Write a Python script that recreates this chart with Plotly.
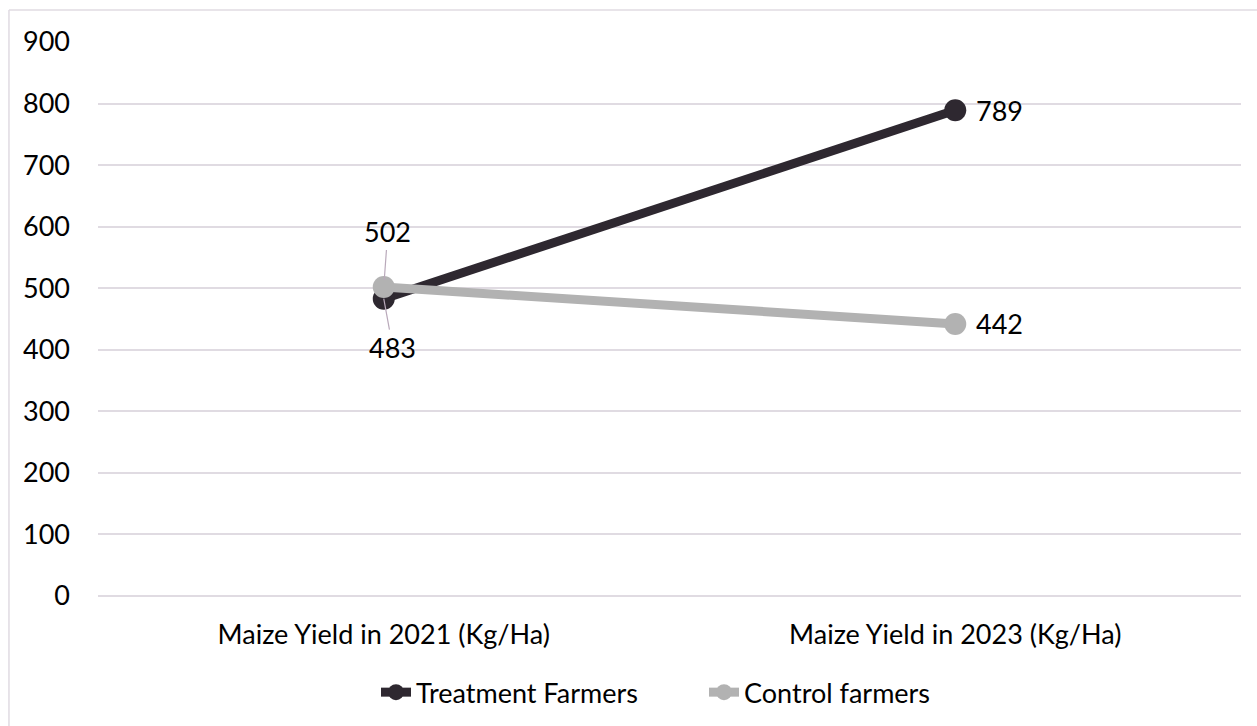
import plotly.graph_objects as go

# Maize yield per hectare, before and after the programme
categories = ["Maize Yield in 2021 (Kg/Ha)", "Maize Yield in 2023 (Kg/Ha)"]
treatment = [483, 789]
control = [502, 442]
y_ticks = [0, 100, 200, 300, 400, 500, 600, 700, 800, 900]

FONT = "Lato"
FS = 27
TXT = "#000000"
DARK = "#2e2830"
LIGHT = "#b2b2b2"
GRID = "#e0dbe2"
LEADER = "#b9a9ba"

fig = go.Figure()
fig.add_trace(go.Scatter(
    x=categories, y=treatment, name="Treatment Farmers",
    mode="lines+markers",
    line=dict(color=DARK, width=9),
    marker=dict(color=DARK, size=22),
    legend="legend",
))
fig.add_trace(go.Scatter(
    x=categories, y=control, name="Control farmers",
    mode="lines+markers",
    line=dict(color=LIGHT, width=9),
    marker=dict(color=LIGHT, size=22),
    legend="legend2",
))

# data labels: right of the 2023 points, leader lines at the crowded 2021 points
fig.add_annotation(x=categories[1], y=treatment[1], text=str(treatment[1]),
                   showarrow=False, xanchor="left", xshift=19,
                   font=dict(family=FONT, size=FS, color=TXT))
fig.add_annotation(x=categories[1], y=control[1], text=str(control[1]),
                   showarrow=False, xanchor="left", xshift=19,
                   font=dict(family=FONT, size=FS, color=TXT))
fig.add_annotation(x=categories[0], y=control[0], text=str(control[0]),
                   showarrow=True, arrowhead=0, arrowwidth=1.2, arrowcolor=LEADER,
                   ax=4, ay=-55, standoff=7, borderpad=1,
                   font=dict(family=FONT, size=FS, color=TXT))
fig.add_annotation(x=categories[0], y=treatment[0], text=str(treatment[0]),
                   showarrow=True, arrowhead=0, arrowwidth=1.2, arrowcolor=LEADER,
                   ax=9, ay=49, standoff=0, borderpad=1,
                   font=dict(family=FONT, size=FS, color=TXT))

# chart frame
fig.add_shape(type="line", xref="paper", yref="paper",
              x0=-0.0779, x1=1.03, y0=1.0578, y1=1.0578,
              line=dict(color=GRID, width=1.5))
fig.add_shape(type="line", xref="paper", yref="paper",
              x0=-0.0779, x1=-0.0779, y0=-0.3, y1=1.0578,
              line=dict(color=GRID, width=1.5))

legend_style = dict(orientation="h", xref="container", xanchor="left",
                    yref="container", y=0.046, yanchor="middle",
                    font=dict(family=FONT, size=FS, color=TXT),
                    itemwidth=30, bgcolor="rgba(0,0,0,0)")

fig.update_layout(
    width=1257, height=726,
    margin=dict(l=98, r=16, t=42, b=130, autoexpand=False),
    paper_bgcolor="white", plot_bgcolor="white",
    font=dict(family=FONT, size=FS, color=TXT),
    showlegend=True,
    legend=dict(legend_style, x=(417 - 41) / 1257),
    legend2=dict(legend_style, x=(745 - 41) / 1257),
    xaxis=dict(range=[-0.5, 1.5], showgrid=False, showline=False, zeroline=False,
               ticks="", ticklabelstandoff=20, automargin=False,
               tickfont=dict(family=FONT, size=FS, color=TXT)),
    yaxis=dict(range=[0, 900], tickvals=y_ticks, ticktext=[str(v) for v in y_ticks],
               showgrid=True, gridcolor=GRID, gridwidth=1.5,
               zeroline=True, zerolinecolor=GRID, zerolinewidth=1.5,
               showline=False, ticks="", automargin=False,
               ticklabelstandoff=27,
               tickfont=dict(family=FONT, size=FS, color=TXT)),
)

fig.write_html("out.html")
